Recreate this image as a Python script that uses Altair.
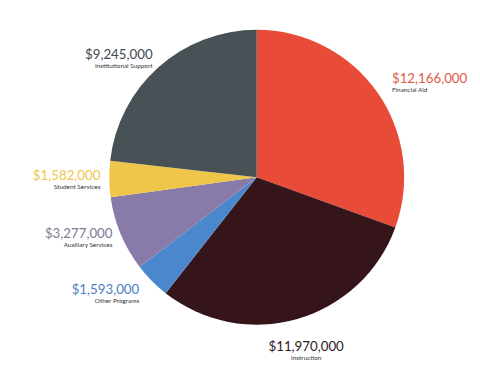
import altair as alt
import pandas as pd

categories = ["Financial Aid", "Instruction", "Other Programs", "Auxiliary Services",
              "Student Services", "Institutional Support"]
values = [12166000, 11970000, 1593000, 3277000, 1582000, 9245000]
slice_colors = ["#E84B37", "#35141A", "#4A87CC", "#887BAA", "#F0C64A", "#475156"]
label_colors = ["#E05A45", "#2B1A1E", "#4A80C4", "#7E7A94", "#F0C64A", "#40484D"]
value_labels = ["$12,166,000", "$11,970,000", "$1,593,000", "$3,277,000", "$1,582,000", "$9,245,000"]

df = pd.DataFrame({
    "category": categories,
    "value": values,
    "label": value_labels,
    "rank": list(range(len(categories))),
})

CX, CY = 253, 169
font = "Lato"

base = alt.Chart(df).encode(
    theta=alt.Theta("value:Q", stack=True),
    order=alt.Order("rank:Q"),
)

pie = base.mark_arc(radius=150, stroke=None).encode(
    x=alt.value(CX), y=alt.value(CY),
    color=alt.Color("category:N", scale=alt.Scale(domain=categories, range=slice_colors), legend=None),
)


def labels(cats, align, radius, dy_val=-3, dy_name=8):
    pred = alt.FieldOneOfPredicate(field="category", oneOf=cats)
    v = base.mark_text(radius=radius, align=align, baseline="middle", dy=dy_val,
                       font=font, fontSize=13.5).encode(
        x=alt.value(CX), y=alt.value(CY),
        text=alt.condition(pred, alt.Text("label:N"), alt.value("")),
        color=alt.Color("category:N", scale=alt.Scale(domain=categories, range=label_colors), legend=None),
    )
    n = base.mark_text(radius=radius, align=align, baseline="middle", dy=dy_name,
                       font=font, fontSize=6.5, color="#333333").encode(
        x=alt.value(CX), y=alt.value(CY),
        text=alt.condition(pred, alt.Text("category:N"), alt.value("")),
    )
    return [v, n]


layers = [pie]
layers += labels(["Financial Aid"], "left", 168)
layers += labels(["Instruction"], "center", 183)
layers += labels(["Other Programs"], "right", 168)
layers += labels(["Auxiliary Services", "Student Services"], "right", 159)
layers += labels(["Institutional Support"], "right", 159, dy_val=-6, dy_name=5)

chart = alt.layer(*layers).properties(
    width=472, height=360, padding=0,
    autosize=alt.AutoSizeParams(type="none"),
).resolve_scale(color="independent").configure_view(stroke=None)

chart.save("out.html", embed_options={"renderer": "svg", "actions": False})
